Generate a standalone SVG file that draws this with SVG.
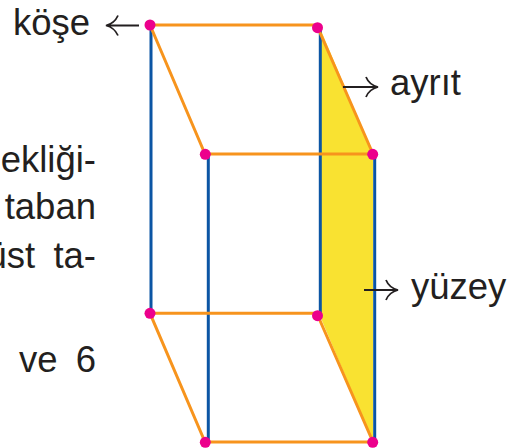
<svg xmlns="http://www.w3.org/2000/svg" width="524" height="448" viewBox="0 0 524 448">
<style>
text{font-family:"Liberation Sans",Arial,sans-serif;font-size:36.500px;fill:#231f20}
.w{word-spacing:8px}
.o{stroke:#f7941d;stroke-width:3;fill:none}
.b{stroke:#0b55a4;stroke-width:3;fill:none}
.a{stroke:#231f20;stroke-width:1.800;fill:none}
.d{fill:#ec008c}
</style>
<rect width="524" height="448" fill="#fff"/>
<polygon id="face" points="320,28 373,154 373,442 320,316" fill="#f9e231"/>
<g id="connectors">
<path class="b" d="M151 25V313M208.300 154V442M320.300 28V316M374.700 154V442"/>
<path class="o" d="M150 25H318M205 154H373M150 313.300H318M205 442H373M150 25L205 154M318 28L373 154M150 313.300L205 442M318 316L373 442"/>
<path class="a" d="M139 25.500H107M118 15.500C116 20 112 24 106 25.500C112 27 116 31 118 35.500"/>
<path class="a" d="M343 87H377M366 77C368 82 372 85.500 378 87C372 88.500 368 92 366 97"/>
<path class="a" d="M364 290H397M386 280C388 285 392 288.500 398 290C392 291.500 388 295 386 300"/>
</g>
<g id="dots">
<circle class="d" cx="150" cy="25" r="5.500"/><circle class="d" cx="317.500" cy="27.700" r="5.500"/>
<circle class="d" cx="205.300" cy="154.300" r="5.500"/><circle class="d" cx="372.700" cy="154.300" r="5.500"/>
<circle class="d" cx="150" cy="313.300" r="5.500"/><circle class="d" cx="317.500" cy="315.700" r="5.500"/>
<circle class="d" cx="205.300" cy="442.300" r="5.500"/><circle class="d" cx="372.700" cy="442.300" r="5.500"/>
</g>
<g id="labels">
<text x="13" y="35">köşe</text>
<text x="390" y="95">ayrıt</text>
<text x="411" y="299">yüzey</text>
<text x="96" y="171.500" text-anchor="end">ekliği-</text>
<text x="96" y="219" text-anchor="end">taban</text>
<text class="w" x="96" y="268" text-anchor="end">üst ta-</text>
<text class="w" x="96" y="371.500" text-anchor="end">ve 6</text>
</g>
</svg>
